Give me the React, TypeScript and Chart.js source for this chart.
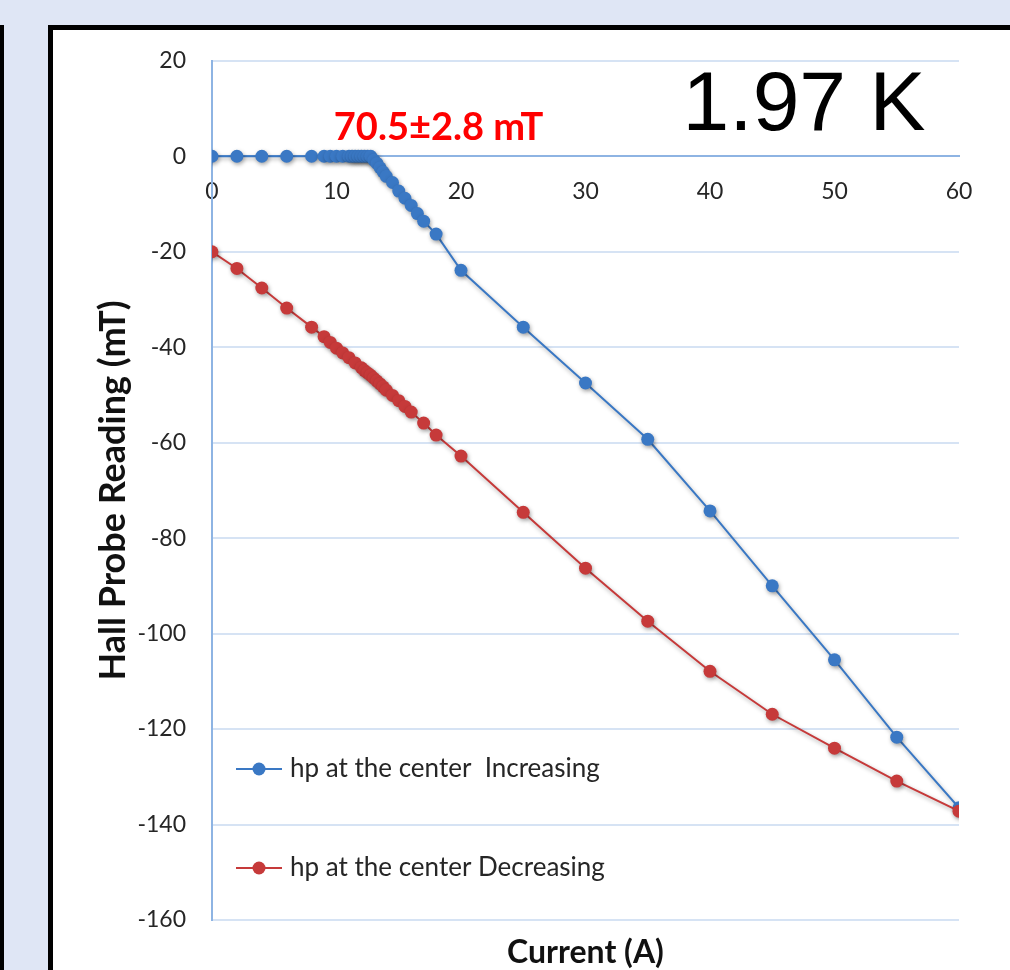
import React, { useEffect, useRef } from 'react';
import { Chart, registerables, Plugin } from 'chart.js';

Chart.register(...registerables);

// Current (A) and Hall probe reading (mT)
const incCurrent = [0, 2, 4, 6, 8, 9, 9.5, 10, 10.5, 11, 11.25, 11.5, 11.75, 12, 12.25, 12.5, 12.75,
  13, 13.25, 13.5, 13.75, 14, 14.5, 15, 15.5, 16, 16.5, 17, 18, 20, 25, 30, 35, 40, 45, 50, 55, 60];
const incField = [0, 0, 0, 0, 0, 0, 0, 0, 0, 0, 0, 0, 0, 0, 0, 0, 0,
  -0.8, -1.5, -2.4, -3.3, -4.2, -5.5, -7.3, -8.8, -10.3, -12, -13.6, -16.3, -23.9, -35.8, -47.5, -59.3, -74.3, -90, -105.5, -121.7, -136.5];

const decCurrent = [0, 2, 4, 6, 8, 9, 9.5, 10, 10.5, 11, 11.5, 12, 12.25, 12.5, 12.75, 13, 13.25, 13.5, 13.75, 14,
  14.5, 15, 15.5, 16, 17, 18, 20, 25, 30, 35, 40, 45, 50, 55, 60];
const decField = [-20, -23.5, -27.6, -31.8, -35.8, -37.8, -39, -40.2, -41.2, -42.2, -43.3, -44.3, -44.9, -45.4, -45.9, -46.5, -47.1, -47.7, -48.3, -49,
  -50.1, -51.2, -52.4, -53.6, -55.9, -58.4, -62.8, -74.6, -86.3, -97.4, -107.9, -116.9, -124, -130.9, -137.2];

const seriesLabels = ['hp at the center  Increasing', 'hp at the center Decreasing'];
const seriesColors = ['#3a78c4', '#c63a3a'];
const fieldNote = '70.5±2.8 mT';
const tempNote = '1.97 K';

const FONT = 'Lato, "Open Sans", sans-serif';

const toPoints = (xs: number[], ys: number[]) => xs.map((x, i) => ({ x, y: ys[i] }));

// soft drop shadow under lines and markers, like the office chart
const shadowPlugin: Plugin = {
  id: 'shadow',
  beforeDatasetsDraw(chart) {
    const ctx = chart.ctx;
    ctx.save();
    ctx.shadowColor = 'rgba(0,0,0,0.35)';
    ctx.shadowBlur = 4;
    ctx.shadowOffsetX = 1;
    ctx.shadowOffsetY = 2;
  },
  afterDatasetsDraw(chart) {
    chart.ctx.restore();
  },
};

// legend inside the plot area + text notes
const overlayPlugin: Plugin = {
  id: 'overlay',
  afterDraw(chart) {
    const { ctx, chartArea, scales } = chart;
    ctx.save();

    // legend rows
    const rows = [chartArea.bottom - 151, chartArea.bottom - 52];
    rows.forEach((y, i) => {
      const x0 = chartArea.left + 24;
      ctx.strokeStyle = seriesColors[i];
      ctx.lineWidth = 2;
      ctx.beginPath();
      ctx.moveTo(x0, y);
      ctx.lineTo(x0 + 46, y);
      ctx.stroke();
      ctx.fillStyle = seriesColors[i];
      ctx.beginPath();
      ctx.arc(x0 + 23, y, 6.5, 0, Math.PI * 2);
      ctx.fill();
      ctx.fillStyle = '#262626';
      ctx.font = `26px ${FONT}`;
      ctx.textAlign = 'left';
      ctx.textBaseline = 'middle';
      ctx.fillText(seriesLabels[i], x0 + 54, y);
    });

    // field note
    ctx.fillStyle = '#ff0000';
    ctx.font = `bold 38px ${FONT}`;
    ctx.textAlign = 'center';
    ctx.textBaseline = 'middle';
    ctx.fillText(fieldNote, scales.x.getPixelForValue(18.2), scales.y.getPixelForValue(5.9));

    // temperature
    ctx.fillStyle = '#000000';
    ctx.font = '84px "Liberation Sans", Arial, sans-serif';
    ctx.textBaseline = 'alphabetic';
    ctx.fillText(tempNote, scales.x.getPixelForValue(47.55), scales.y.getPixelForValue(5.4));

    ctx.restore();
  },
};

const HallProbeChart: React.FC = () => {
  const canvasRef = useRef<HTMLCanvasElement>(null);
  const chartRef = useRef<Chart | null>(null);

  useEffect(() => {
    if (!canvasRef.current) return;
    if (chartRef.current) chartRef.current.destroy();

    chartRef.current = new Chart(canvasRef.current, {
      type: 'line',
      data: {
        datasets: [
          {
            label: seriesLabels[0],
            data: toPoints(incCurrent, incField),
            borderColor: seriesColors[0],
            backgroundColor: seriesColors[0],
            borderWidth: 2,
            pointRadius: 6.5,
            pointBorderWidth: 0,
            order: 1,
          },
          {
            label: seriesLabels[1],
            data: toPoints(decCurrent, decField),
            borderColor: seriesColors[1],
            backgroundColor: seriesColors[1],
            borderWidth: 2,
            pointRadius: 6.5,
            pointBorderWidth: 0,
            order: 0,
          },
        ],
      },
      options: {
        responsive: false,
        animation: false,
        layout: { padding: { top: 22, right: 51, left: 0, bottom: 0 } },
        plugins: {
          legend: { display: false },
          tooltip: { enabled: false },
        },
        scales: {
          x: {
            type: 'linear',
            position: { y: 0 },
            min: 0,
            max: 60,
            grid: { display: false, drawTicks: false },
            border: { color: '#8eb4e3', width: 2 },
            ticks: {
              stepSize: 10,
              padding: 22,
              color: '#262626',
              font: { family: FONT, size: 23 },
            },
          },
          xTitle: {
            type: 'linear',
            axis: 'x',
            position: 'bottom',
            min: 0,
            max: 60,
            grid: { display: false, drawTicks: false },
            border: { display: false },
            ticks: { display: false },
            title: {
              display: true,
              text: 'Current (A)',
              color: '#111111',
              font: { family: FONT, size: 32, weight: 'bold', lineHeight: 1 },
              padding: { top: 0, bottom: 1 },
            },
            afterFit: (scale) => {
              scale.height = 50;
            },
          },
          y: {
            type: 'linear',
            min: -160,
            max: 20,
            grid: { color: '#d6e3f4', lineWidth: 2, drawTicks: false },
            border: { color: '#8eb4e3', width: 2 },
            ticks: {
              stepSize: 20,
              padding: 26,
              color: '#262626',
              font: { family: FONT, size: 23 },
            },
            title: {
              display: true,
              text: 'Hall Probe Reading (mT)',
              color: '#111111',
              font: { family: FONT, size: 36, weight: 'bold', lineHeight: 1 },
              padding: { top: 42, bottom: 0 },
            },
            afterFit: (scale) => {
              scale.width = 159;
            },
          },
        },
      },
      plugins: [shadowPlugin, overlayPlugin],
    });

    return () => {
      if (chartRef.current) {
        chartRef.current.destroy();
        chartRef.current = null;
      }
    };
  }, []);

  return (
    <canvas
      ref={canvasRef}
      width={957}
      height={949}
      style={{ width: 957, height: 949, display: 'block', marginTop: -9 }}
    />
  );
};

export default function App() {
  return (
    <div style={{ position: 'fixed', left: 0, top: 0, width: 1010, height: 970, overflow: 'hidden', background: '#dfe6f5' }}>
      {/* edge of the neighbouring panel */}
      <div style={{ position: 'absolute', left: -40, top: 25, width: 40, height: 1000, borderRight: '4px solid #000', background: '#fff' }} />
      <div style={{ position: 'absolute', left: 48, top: 25, width: 1000, height: 1000, border: '5px solid #000', background: '#fff' }}>
        <HallProbeChart />
      </div>
    </div>
  );
}
